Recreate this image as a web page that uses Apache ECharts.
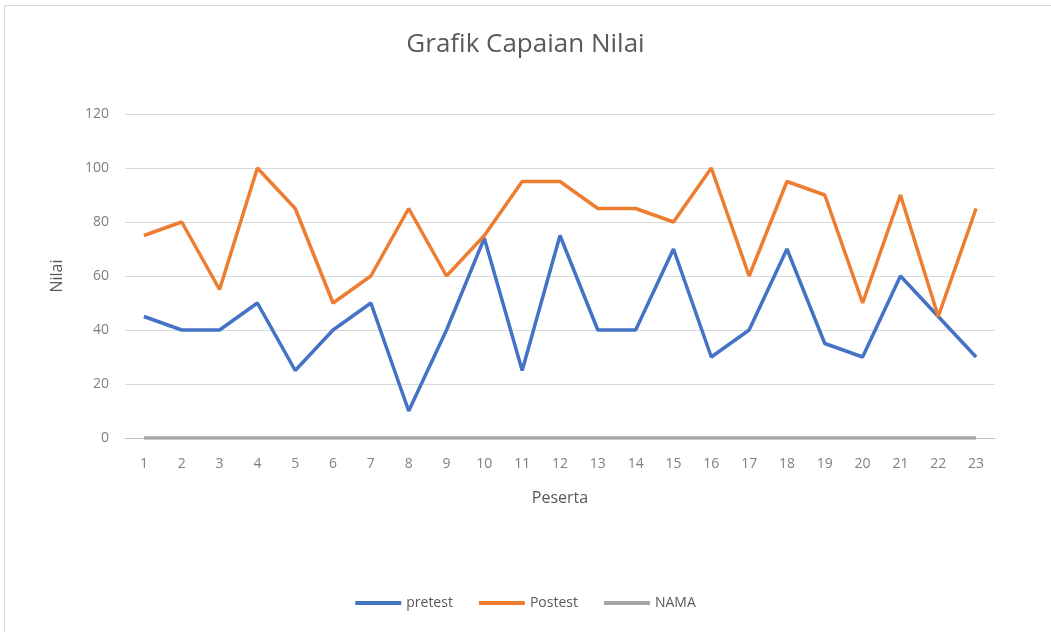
<!DOCTYPE html>
<html>
<head>
    <meta charset="utf-8">
    <title>Grafik Capaian Nilai</title>
    <script src="https://cdn.jsdelivr.net/npm/echarts@6/dist/echarts.min.js"></script>
    <style>
        html, body { margin: 0; padding: 0; background: #fff; }
        #frame { position: absolute; left: 4px; top: 5px; width: 1060px; height: 640px; border: 1px solid #d9d9d9; box-sizing: border-box; }
        #chart { position: absolute; left: 0; top: 0; width: 1051px; height: 632px; }
    </style>
</head>
<body>
<div id="frame"></div>
<div id="chart"></div>
<script>
    // data
    var peserta = ['1','2','3','4','5','6','7','8','9','10','11','12','13','14','15','16','17','18','19','20','21','22','23'];
    var pretest = [45, 40, 40, 50, 25, 40, 50, 10, 40, 74, 25, 75, 40, 40, 70, 30, 40, 70, 35, 30, 60, 45, 30];
    var postest = [75, 80, 55, 100, 85, 50, 60, 85, 60, 75, 95, 95, 85, 85, 80, 100, 60, 95, 90, 50, 90, 45, 85];
    var nama = [0, 0, 0, 0, 0, 0, 0, 0, 0, 0, 0, 0, 0, 0, 0, 0, 0, 0, 0, 0, 0, 0, 0];

    var txt = '#595959';
    var tick = '#7f7f7f';
    var font = '"Open Sans", "Noto Sans", sans-serif';

    var myChart = echarts.init(document.getElementById('chart'));
    var option = {
        animation: false,
        title: {
            text: 'Grafik Capaian Nilai',
            left: 'center',
            top: 27,
            textStyle: { color: txt, fontSize: 26, fontWeight: 'normal', fontFamily: font }
        },
        legend: {
            bottom: 17,
            left: 'center',
            itemWidth: 46,
            itemHeight: 4,
            itemGap: 26,
            icon: 'rect',
            textStyle: { color: txt, fontSize: 14, fontFamily: font },
            data: ['pretest', 'Postest', 'NAMA']
        },
        grid: { left: 125, right: 56, top: 114, bottom: 194 },
        xAxis: {
            type: 'category',
            data: peserta,
            boundaryGap: true,
            name: 'Peserta',
            nameLocation: 'middle',
            nameGap: 52,
            nameTextStyle: { color: txt, fontSize: 16, fontFamily: font },
            axisLine: { lineStyle: { color: '#bfbfbf' } },
            axisTick: { show: false },
            axisLabel: { color: tick, fontSize: 14, margin: 19, fontFamily: font }
        },
        yAxis: {
            type: 'value',
            min: 0,
            max: 120,
            interval: 20,
            name: 'Nilai',
            nameLocation: 'middle',
            nameGap: 60,
            nameTextStyle: { color: txt, fontSize: 16, fontFamily: font },
            axisLine: { show: false },
            axisTick: { show: false },
            axisLabel: { color: tick, fontSize: 14, margin: 16, fontFamily: font },
            splitLine: { lineStyle: { color: '#d9d9d9', width: 1 } }
        },
        series: [
            {
                name: 'NAMA', type: 'line', data: nama, symbol: 'none',
                lineStyle: { color: '#a5a5a5', width: 3.5 }, itemStyle: { color: '#a5a5a5' }, z: 1
            },
            {
                name: 'pretest', type: 'line', data: pretest, symbol: 'none',
                lineStyle: { color: '#4472c4', width: 3.5 }, itemStyle: { color: '#4472c4' }, z: 2
            },
            {
                name: 'Postest', type: 'line', data: postest, symbol: 'none',
                lineStyle: { color: '#ed7d31', width: 3.5 }, itemStyle: { color: '#ed7d31' }, z: 3
            }
        ]
    };
    myChart.setOption(option);
</script>
</body>
</html>
